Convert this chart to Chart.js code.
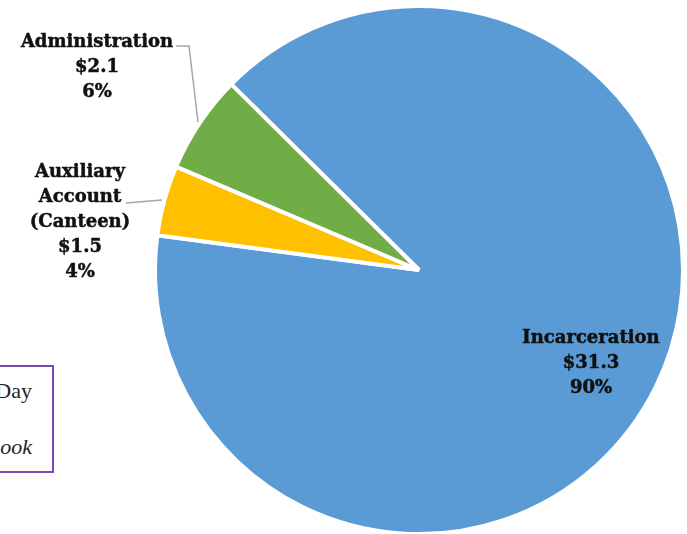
<!DOCTYPE html>
<html>
<head>
<meta charset="utf-8">
<script src="https://cdn.jsdelivr.net/npm/chart.js@4.4.1/dist/chart.umd.min.js"></script>
<style>
  html, body { margin: 0; padding: 0; background: #fff; overflow: hidden; }
  #wrap { position: relative; width: 687px; height: 534px; overflow: hidden; }
  #pie { position: absolute; left: 0; top: 0; }
  .note {
    position: absolute; left: -120px; top: 365px; width: 170px; height: 104px;
    border: 2px solid #7F48B2; background: #fff;
    font-family: "Liberation Serif", serif; font-size: 22px; color: #222;
  }
  .note span { position: absolute; right: 20px; }
</style>
</head>
<body>
<div id="wrap">
  <div class="note">
    <span style="top:11px">Day</span>
    <span style="top:67px; font-style:italic">ook</span>
  </div>
  <canvas id="pie" width="687" height="540"></canvas>
</div>
<script>
// Budget by program, in millions of dollars
const categories = [['Incarceration'], ['Auxiliary', 'Account', '(Canteen)'], ['Administration']];
const amounts = [31.3, 1.5, 2.1];
const sliceColors = ['#5B9BD5', '#FFC000', '#70AD47'];

const total = amounts.reduce((a, b) => a + b, 0);

// Where each slice's label block sits, and its leader line (if any)
const labelLayout = [
  { x: 591, y: 343, leader: null },
  { x: 80,  y: 177, leader: [[126, 203], [162, 200]] },
  { x: 97,  y: 47,  leader: [[176, 46], [189, 46], [198, 122]] }
];

const sliceLabels = {
  id: 'sliceLabels',
  afterDatasetsDraw(chart) {
    const ctx = chart.ctx;
    ctx.save();
    labelLayout.forEach((lay, i) => {
      if (lay.leader) {
        ctx.strokeStyle = '#A6A6A6';
        ctx.lineWidth = 1.5;
        ctx.beginPath();
        lay.leader.forEach(([px, py], k) => k ? ctx.lineTo(px, py) : ctx.moveTo(px, py));
        ctx.stroke();
      }
      const lines = [...categories[i], '$' + amounts[i].toFixed(1), Math.round(amounts[i] / total * 100) + '%'];
      ctx.fillStyle = '#111';
      ctx.strokeStyle = '#111';
      ctx.lineWidth = 0.5;
      ctx.font = 'bold 18px "DejaVu Serif", serif';
      ctx.textAlign = 'center';
      ctx.textBaseline = 'alphabetic';
      lines.forEach((t, k) => {
        ctx.fillText(t, lay.x, lay.y + k * 25);
        ctx.strokeText(t, lay.x, lay.y + k * 25);
      });
    });
    ctx.restore();
  }
};

new Chart(document.getElementById('pie'), {
  type: 'pie',
  data: {
    labels: categories,
    datasets: [{
      data: amounts,
      backgroundColor: sliceColors,
      borderColor: '#ffffff',
      borderWidth: 4
    }]
  },
  options: {
    responsive: false,
    animation: false,
    rotation: -45.3,
    layout: { padding: { left: 153, right: 2, top: 4, bottom: 4 } },
    plugins: { legend: { display: false }, tooltip: { enabled: false } }
  },
  plugins: [sliceLabels]
});
</script>
</body>
</html>
